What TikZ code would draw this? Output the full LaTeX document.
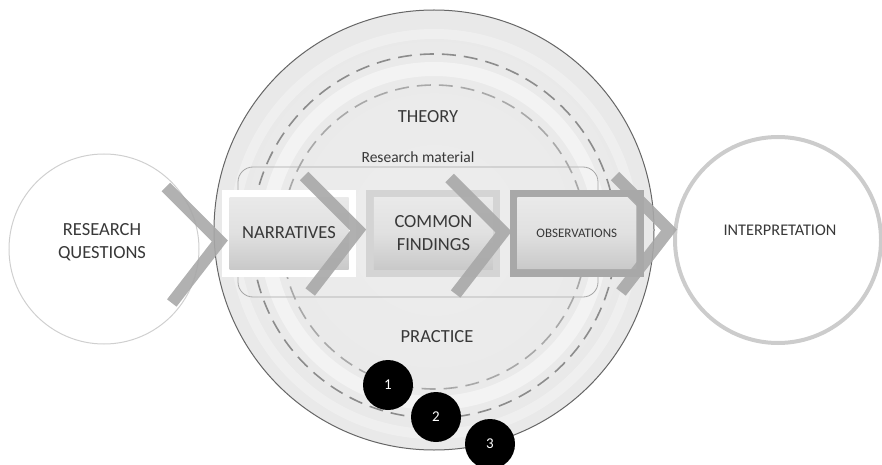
\documentclass[tikz,border=0pt]{standalone}
\usepackage{fontspec}
\setmainfont{Carlito}
\usepackage{xcolor}
\usetikzlibrary{positioning,calc,shapes.misc}

\pgfdeclareradialshading{discshade}{\pgfpoint{0bp}{0bp}}{color(0bp)=(gray!14); color(30bp)=(gray!18); color(42bp)=(gray!24); color(48bp)=(gray!32); color(50bp)=(gray!48)}
\pgfdeclareverticalshading{boxshade}{100bp}{color(0bp)=(gray!58); color(20bp)=(gray!46); color(50bp)=(gray!24); color(85bp)=(gray!14); color(100bp)=(gray!8)}

\tikzset{
  frame/.style={minimum width=134pt,minimum height=87pt,inner sep=0pt},
  inbox/.style={shade,shading=boxshade,minimum width=119pt,minimum height=72pt,inner sep=0pt,align=center},
  lbl/.style={text=black!78,font=\fontsize{18.5}{23}\selectfont},
  chevron/.style={draw=gray!68,line width=12pt,line join=miter,opacity=0.9},
  numdot/.style={circle,fill=black,minimum size=50pt,inner sep=0pt,text=white,font=\fontsize{15}{15}\selectfont}
}
% chevron with its tip at a node anchor, optionally shifted
\newcommand{\chevto}[2][0,0]{\draw[chevron] ($(#2)+(#1)+(-62,54)$) -- ($(#2)+(#1)+(-8,0)$) -- ($(#2)+(#1)+(-56,-62)$);}

\begin{document}
\begin{tikzpicture}[x=1pt,y=1pt]
  \useasboundingbox (0,0) rectangle (882,464);

  % side circles
  \node[circle,draw=gray!38,line width=1pt,minimum size=190pt,inner sep=0pt] (rq) at (104,215) {};
  \node[lbl,align=center] (rqtext) at (102,222) {RESEARCH\\QUESTIONS};
  \node[circle,draw=gray!40,line width=4pt,minimum size=206pt,inner sep=0pt] (interp) at (778,224) {};
  \node[lbl,font=\fontsize{16.3}{20}\selectfont] (interptext) at (780,234) {INTERPRETATION};

  % theory / practice disc
  \coordinate (hub) at (434,234);
  \shade[shading=discshade] (hub) circle (220);
  \draw[gray!80!black,line width=1pt] (hub) circle (220);
  \draw[white,opacity=0.45,line width=14pt] ($(hub)+(0,-6)$) circle (167);
  \draw[white,opacity=0.3,line width=10pt] ($(hub)+(0,-4)$) circle (200);
  \draw[gray!90,line width=1.6pt,dash pattern=on 14pt off 8pt] ($(hub)+(0,-6)$) circle (182);
  \draw[gray!68,line width=1.6pt,dash pattern=on 14pt off 8pt] ($(hub)+(0,-7)$) circle (152);

  \node[lbl] (theory) at (428,347) {THEORY};
  \node[lbl] (practice) at (437,127) {PRACTICE};

  \node[draw=gray!70,line width=0.8pt,rounded corners=15pt,minimum width=360pt,minimum height=130pt] (material)
    at (418,232) {};
  \node[text=black!78,font=\fontsize{15.5}{18}\selectfont,above=0pt of material] (mattext) {Research material};

  % research material boxes
  \node[frame,fill=white] (narrf) at (289,231) {};
  \node[frame,fill=gray!34,right=10pt of narrf] (commonf) {};
  \node[frame,fill=gray!68,right=9pt of commonf] (obsf) {};

  \node[inbox,lbl] (narr) at (narrf) {\raisebox{-5pt}{NARRATIVES}};
  \node[inbox,lbl] (common) at (commonf) {COMMON\\FINDINGS};
  \node[inbox,lbl,chamfered rectangle,chamfered rectangle corners=north east,chamfered rectangle xsep=10pt,
    font=\fontsize{13}{15}\selectfont] (obs) at (obsf) {OBSERVATIONS};

  % chevrons
  \chevto[6,-8]{narrf.west}
  \chevto[0,3]{commonf.west}
  \chevto[2,1]{obsf.west}
  \chevto[4,10]{interp.west}

  % numbered dots
  \node[numdot] (n1) at (388,79) {1};
  \node[numdot] (n2) at (436,47) {2};
  \node[numdot] (n3) at (490,20) {3};
\end{tikzpicture}
\end{document}
